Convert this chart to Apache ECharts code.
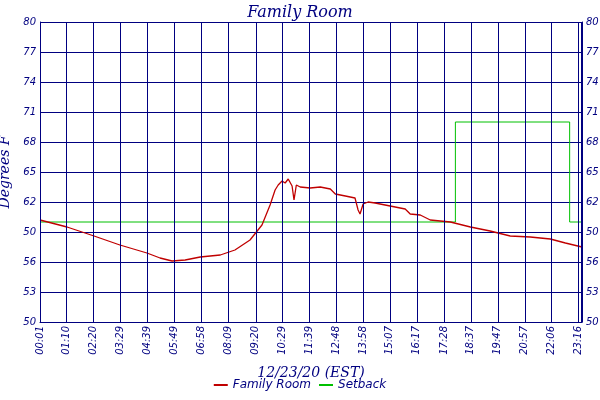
<!DOCTYPE html><html><head><meta charset="utf-8">
<script src="https://cdn.jsdelivr.net/npm/echarts@6/dist/echarts.min.js"></script>
<style>html,body{margin:0;background:#fff}#c{width:600px;height:400px}</style></head><body><div id="c"></div>
<script>
const tickLabels=["00:01","01:10","02:20","03:29","04:39","05:49","06:58","08:09","09:20","10:29","11:39","12:48","13:58","15:07","16:17","17:28","18:37","19:47","20:57","22:06","23:16","23:24"];
const yLabels={50:"50",53:"53",56:"56",59:"50",62:"62",65:"65",68:"68",71:"71",74:"74",77:"77",80:"80"};
const roomTimes=["00:01","01:11","02:21","03:28","04:38","05:12","05:43","06:17","06:56","07:48","08:26","09:05","09:36","09:57","10:10","10:18","10:28","10:36","10:44","10:54","10:59","11:05","11:15","11:41","12:07","12:33","12:46","13:12","13:37","13:45","13:50","13:58","14:11","14:29","15:08","15:47","16:00","16:26","16:52","17:44","18:36","19:27","20:19","21:11","22:03","22:42","23:25"];
const roomTemps=[60.2,59.5,58.6,57.7,56.9,56.4,56.1,56.2,56.5,56.7,57.2,58.2,59.7,61.7,63.2,63.7,64.1,63.9,64.3,63.6,62.2,63.7,63.5,63.4,63.5,63.3,62.8,62.6,62.4,61.2,60.8,61.8,62.0,61.9,61.6,61.3,60.8,60.7,60.2,60.0,59.5,59.1,58.6,58.5,58.3,57.9,57.5];
const setbackTimes=["00:01","17:57","17:57","22:53","22:53","23:25"];
const setbackTemps=[60,60,70,70,60,60];
const m=s=>{const[a,b]=s.split(":").map(Number);return a*60+b;};
const tickVals=tickLabels.map(m);
const navy="#000080";
const lab={color:navy,fontStyle:"italic",fontSize:10,fontFamily:"DejaVu Sans"};
const yAx=(pos)=>({type:"value",position:pos,min:50,max:80,interval:3,
 axisLine:{show:true,lineStyle:{color:navy}},axisTick:{show:false},
 splitLine:{show:pos==="left",lineStyle:{color:navy,width:1}},
 axisLabel:Object.assign({},lab,{margin:4,formatter:v=>yLabels[v]||""})});
const chart=echarts.init(document.getElementById("c"));
chart.setOption({backgroundColor:"#fff",animation:false,
 title:{text:"Family Room",left:"center",top:0,textStyle:{color:navy,fontStyle:"italic",fontWeight:"normal",fontFamily:"DejaVu Serif",fontSize:16}},
 grid:{left:40,right:18,top:22,bottom:78,containLabel:false,outerBoundsMode:"none"},
 xAxis:{type:"value",min:1,max:1405,axisLine:{show:true,lineStyle:{color:navy}},splitLine:{show:false},
  axisTick:{show:false},
  name:"12/23/20 (EST)",nameLocation:"middle",nameGap:44,nameTextStyle:{color:navy,fontStyle:"italic",fontSize:14,fontFamily:"DejaVu Serif"},
  axisLabel:Object.assign({},lab,{rotate:90,margin:4,customValues:tickVals,formatter:v=>{const i=tickVals.indexOf(v);return i>=0?tickLabels[i]:"";}})},
 yAxis:[Object.assign(yAx("left"),{name:"Degrees F",nameLocation:"middle",nameGap:26,nameTextStyle:{color:navy,fontStyle:"italic",fontSize:14,fontFamily:"DejaVu Serif"}}),yAx("right")],
 legend:{bottom:4,left:"center",itemWidth:14,itemHeight:2,icon:"rect",textStyle:{color:navy,fontStyle:"italic",fontSize:12,fontFamily:"DejaVu Sans"},data:["Family Room","Setback"]},
 series:[
  {name:"grid",type:"line",data:[],silent:true,markLine:{symbol:"none",silent:true,label:{show:false},lineStyle:{color:navy,type:"solid",width:1},data:tickVals.map(v=>({xAxis:v}))}},
  {name:"Setback",type:"line",color:"#00c000",symbol:"none",lineStyle:{width:1},data:setbackTimes.map((t,i)=>[m(t),setbackTemps[i]])},
  {name:"Family Room",type:"line",color:"#c00000",symbol:"none",lineStyle:{width:1.3},data:roomTimes.map((t,i)=>[m(t),roomTemps[i]])}
 ]});
</script></body></html>
